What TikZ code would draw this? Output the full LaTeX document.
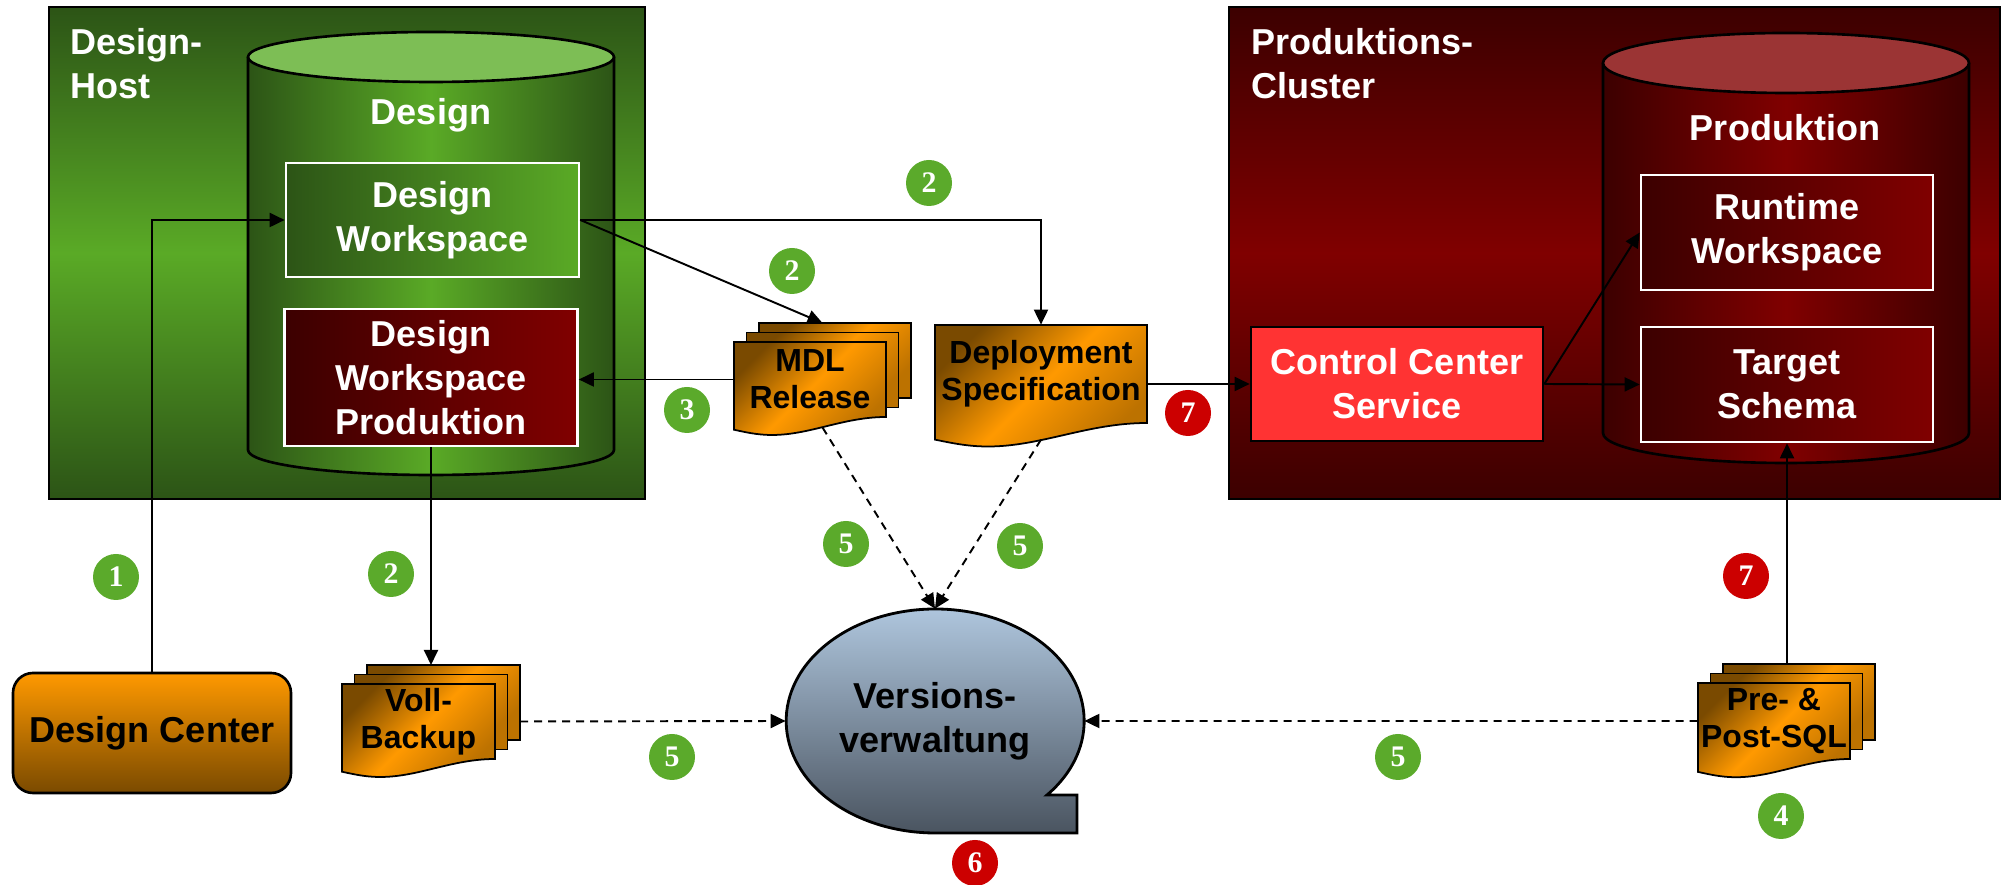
\documentclass[tikz,border=0pt]{standalone}
\usepackage{fontspec}
\setmainfont{Liberation Sans}
\newfontfamily\numfont{Liberation Serif}
\usetikzlibrary{positioning,calc,arrows.meta,shapes.geometric}
\definecolor{HostDark}{RGB}{44,84,22}
\definecolor{HostLight}{RGB}{90,170,38}
\definecolor{CylGreen}{RGB}{125,190,85}
\definecolor{ProdDark}{RGB}{60,0,0}
\definecolor{ProdLight}{RGB}{128,0,0}
\definecolor{CylRed}{RGB}{155,52,52}
\definecolor{CcsRed}{RGB}{255,51,51}
\definecolor{DocOrange}{RGB}{255,153,0}
\definecolor{DocBrown}{RGB}{122,74,0}
\definecolor{VvTop}{RGB}{180,204,228}
\definecolor{VvBottom}{RGB}{74,84,96}
\definecolor{NumGreen}{RGB}{91,170,43}
\definecolor{NumRed}{RGB}{204,0,0}
\tikzset{
  bigfont/.style={font=\bfseries\fontsize{20.5}{25}\selectfont},
  docfont/.style={font=\bfseries\fontsize{18.2}{21}\selectfont},
  greenhost/.style={draw=black,line width=1.3pt,top color=HostDark,bottom color=HostDark,middle color=HostLight},
  redhost/.style={draw=black,line width=1.3pt,top color=ProdDark,bottom color=ProdDark,middle color=ProdLight},
  hostlabel/.style={bigfont,text=white,anchor=north west,align=left,inner sep=0pt},
  greencyl/.style={draw=black,line width=1.5pt,left color=HostDark,right color=HostDark,middle color=HostLight},
  redcyl/.style={draw=black,line width=1.5pt,left color=ProdDark,right color=ProdDark,middle color=ProdLight},
  ws/.style={draw=white,line width=1.5pt,bigfont,text=white,align=center,
    minimum width=5.86cm,minimum height=2.28cm,inner sep=0pt},
  greenws/.style={ws,left color=HostDark,right color=HostLight},
  redws/.style={ws,left color=ProdDark,right color=ProdLight},
  ccsbox/.style={draw=black,line width=1.5pt,fill=CcsRed,bigfont,text=white,align=center,
    minimum width=5.84cm,minimum height=2.28cm,inner sep=0pt},
  dcbox/.style={draw=black,line width=1.5pt,rounded corners=0.4cm,top color=DocOrange,
    bottom color=DocBrown,bigfont,minimum width=5.56cm,minimum height=2.4cm},
  doc/.style={draw=black,line width=1pt,top color=DocBrown,bottom color=DocBrown!50!DocOrange,
    middle color=DocOrange,shading angle=45},
  doctext/.style={docfont,align=center,inner sep=0pt},
  num/.style={circle,fill=#1,text=white,minimum size=0.92cm,inner sep=0pt,
    font=\numfont\bfseries\fontsize{17}{17}\selectfont},
  conn/.style={line width=1.1pt,-{Triangle[length=0.3cm,width=0.28cm]}},
  store/.style={conn,dash pattern=on 0.16cm off 0.12cm},
}
\newcommand{\docpath}[2]{(0,0) -- (#1,0) -- (#1,-#2)
  .. controls (0.72*#1,-#2) and (0.5*#1,-1.24*#2) .. (0.25*#1,-1.24*#2)
  .. controls (0.15*#1,-1.24*#2) and (0.07*#1,-1.2*#2) .. (0,-1.17*#2) -- cycle}
\newcommand{\docstack}[5]{%
  \begin{scope}[shift={(#2)}]
    \foreach \k in {2,1}
      \draw[doc] (0.25*\k,0.19*\k) rectangle ++(#3,-#4);
    \draw[doc] \docpath{#3}{#4};
    \node[doctext,minimum width=#3cm,minimum height=#4cm] (#1) at (#3/2,-#4/2) {#5};
    \coordinate (#1-top) at (0.25+#3/2,0.38);
    \coordinate (#1-right) at (0.5+#3,-#4/2);
    \coordinate (#1-foot) at (0.25+#3/2,-1.14*#4);
  \end{scope}}

\begin{document}
\begin{tikzpicture}
  \useasboundingbox (0,0) rectangle (40.08,17.7);
  \draw[greenhost] (0.98,7.72) rectangle (12.9,17.56);
  \node[hostlabel] (hostlbl) at (1.4,17.14) {Design-\\Host};
  \draw[redhost] (24.58,7.72) rectangle (40.0,17.56);
  \node[hostlabel] (clusterlbl) at (25.02,17.14) {Produktions-\\Cluster};

  \draw[greencyl] (4.96,16.56) -- (4.96,8.7)
    arc[start angle=180,end angle=360,x radius=3.66,y radius=0.5] -- (12.28,16.56);
  \draw[black,line width=1.5pt,fill=CylGreen] (8.62,16.56) ellipse [x radius=3.66,y radius=0.5];
  \node[bigfont,text=white] (designdb) at (8.62,15.4) {Design};
  \node[greenws] (dw) at (8.65,13.3) {Design\\Workspace};
  \node[redws,minimum height=2.74cm] (dwp) at (8.62,10.15) {Design\\Workspace\\Produktion};

  \draw[redcyl] (32.06,16.44) -- (32.06,9.04)
    arc[start angle=180,end angle=360,x radius=3.66,y radius=0.6] -- (39.38,16.44);
  \draw[black,line width=1.5pt,fill=CylRed] (35.72,16.44) ellipse [x radius=3.66,y radius=0.6];
  \node[bigfont,text=white] (proddb) at (35.7,15.14) {Produktion};
  \node[redws,minimum width=5.84cm,minimum height=2.3cm] (rw) at (35.74,13.05) {Runtime\\Workspace};
  \node[redws,minimum width=5.84cm,minimum height=2.3cm] (ts) at (35.74,10.01) {Target\\Schema};
  \node[ccsbox] (ccs) at (27.94,10.02) {Control Center\\Service};

  \node[dcbox] (dc) at (3.04,3.04) {Design Center};

  \docstack{mdl}{14.68,10.86}{3.04}{1.5}{MDL\\Release}
  \docstack{vb}{6.84,4.02}{3.06}{1.5}{Voll-\\Backup}
  \docstack{pps}{33.96,4.04}{3.04}{1.52}{Pre- \&\\Post-SQL}
  \begin{scope}[shift={(18.7,11.2)}]
    \draw[doc] \docpath{4.24}{1.96};
    \node[doctext,minimum width=4.24cm,minimum height=1.96cm] (ds) at (2.12,-0.98) {Deployment\\Specification};
    \coordinate (ds-foot) at (2.12,-1.17*1.96);
  \end{scope}

  \draw[line width=1.6pt,top color=VvTop,bottom color=VvBottom] (18.7,1.04) -- (21.54,1.04) -- (21.54,1.8)
    -- (20.94,1.8) arc[start angle=-41.36,end angle=270,x radius=2.98,y radius=2.24] -- cycle;
  \node[ellipse,minimum width=5.96cm,minimum height=4.48cm,inner sep=0pt,bigfont,align=center]
    (vv) at (18.7,3.28) {Versions-\\verwaltung};

  \draw[conn] (dc.north) |- (dw.west);
  \draw[conn] (dw.east) -| (ds.north);
  \draw[conn] (dw.east) -- (mdl-top);
  \draw[conn] (mdl.west) -- (mdl.west -| dwp.east);
  \draw[conn] (dwp.south) -- (dwp.south |- vb-top);
  \draw[conn] (ccs.west -| ds.east) -- (ccs.west);
  \draw[conn] (ccs.east) -- (ts.west);
  \draw[conn] (ccs.east) -- (rw.west);
  \draw[conn] (ts.south |- pps-top) -- (ts.south);
  \draw[store] (mdl-foot) -- (vv.north);
  \draw[store] (ds-foot) -- (vv.north);
  \draw[store] (vb-right) -- (vv.west);
  \draw[store] (pps.west) -- (vv.east);

  \foreach \n/\x/\y [count=\i] in {1/2.32/6.16, 2/7.82/6.22, 2/18.58/14.04, 2/15.84/12.28,
      3/13.74/9.5, 5/16.92/6.82, 5/20.4/6.78, 5/13.44/2.56, 5/27.96/2.56, 4/35.62/1.38}
    \node[num=NumGreen] (g\i) at (\x,\y) {\n};
  \foreach \n/\x/\y [count=\i] in {6/19.5/0.44, 7/23.76/9.44, 7/34.92/6.18}
    \node[num=NumRed] (r\i) at (\x,\y) {\n};
\end{tikzpicture}
\end{document}
